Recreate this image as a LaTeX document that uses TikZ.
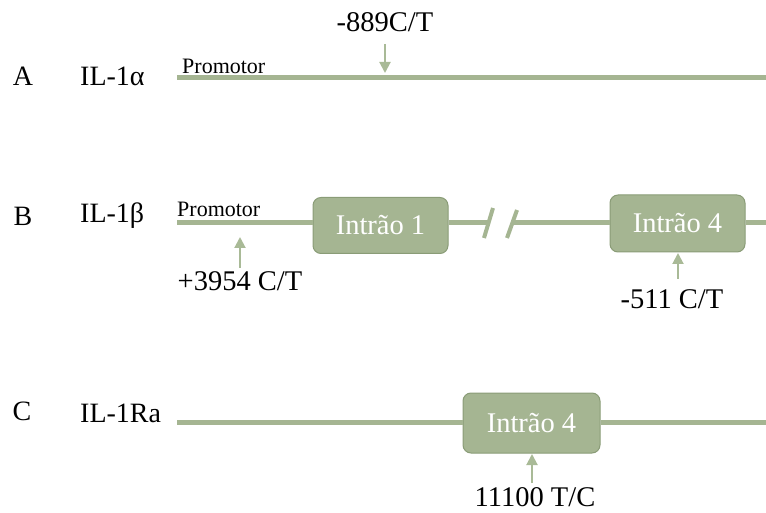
\documentclass[tikz,border=0pt]{standalone}
\usepackage{fontspec}
\setmainfont{Liberation Serif}
\usetikzlibrary{arrows.meta}
\definecolor{gline}{HTML}{A5B592}
\definecolor{gbox}{HTML}{A5B592}
\definecolor{gedge}{HTML}{8A9C77}
\definecolor{garrow}{HTML}{A9BA97}
\begin{document}
\begin{tikzpicture}[x=1pt,y=-1pt,
  gene/.style={draw=gline, line width=5pt},
  cut/.style={draw=gline, line width=4pt},
  intron/.style={draw=gedge, fill=gbox, rounded corners=8pt, line width=1pt,
    minimum width=135pt, minimum height=56pt, text=white, inner sep=0pt,
    font=\fontsize{28.5}{30}\selectfont},
  snp/.style={draw=garrow, line width=2pt, -{Triangle[width=11pt,length=11pt]}},
  big/.style={font=\fontsize{28.5}{32}\selectfont, inner sep=0pt},
  lbl/.style={font=\fontsize{28}{30}\selectfont, inner sep=0pt},
  prom/.style={font=\fontsize{22}{24}\selectfont, inner sep=0pt, anchor=base west}]
\useasboundingbox (0,0) rectangle (766,513);

% Row A
\node[lbl] (la) at (23,76) {A};
\node[lbl, anchor=west] (ga) at (80,76) {IL-1α};
\coordinate (a0) at (177,78);
\coordinate (a1) at (766,78);
\draw[gene] (a0) -- (a1);
\node[prom] (pa) at (182,74) {Promotor};
\node[big] (sa) at (385,22) {-889C/T};
\coordinate (sa1) at (385,44);
\coordinate (sa2) at (385,73);
\draw[snp] (sa1) -- (sa2);

% Row B
\node[lbl] (lb) at (23,216) {B};
\node[lbl, anchor=west] (gb) at (80,216) {IL-1β};
\node[intron] (i1) at (380.5,225.5) {Intrão 1};
\node[intron, minimum height=57pt] (i4b) at (677.5,223.5) {Intrão 4};
\coordinate (b0) at (177,223);
\coordinate (b1) at (488,223);
\coordinate (b2) at (513,223);
\coordinate (b3) at (766,223);
\draw[gene] (b0) -- (b0 -| i1.west);
\draw[gene] (b0 -| i1.east) -- (b1);
\draw[gene] (b2) -- (b2 -| i4b.west);
\draw[gene] (b2 -| i4b.east) -- (b3);
\coordinate (s1a) at (484,238);
\coordinate (s1b) at (493,208);
\coordinate (s2a) at (507,238);
\coordinate (s2b) at (517,210);
\draw[cut] (s1a) -- (s1b);
\draw[cut] (s2a) -- (s2b);
\node[prom] (pb) at (177,217) {Promotor};
\coordinate (sb1) at (240,268);
\coordinate (sb2) at (240,237);
\draw[snp] (sb1) -- (sb2);
\node[big] (tb1) at (240,281) {+3954 C/T};
\coordinate (sc1) at (678,279);
\coordinate (sc2) at (678,253);
\draw[snp] (sc1) -- (sc2);
\node[big] (tb2) at (672,299) {-511 C/T};

% Row C
\node[lbl] (lc) at (22,411) {C};
\node[lbl, anchor=west] (gc) at (80,413) {IL-1Ra};
\node[intron, minimum width=137pt, minimum height=60pt] (i4c) at (531.5,423) {Intrão 4};
\coordinate (c0) at (177,422);
\coordinate (c1) at (766,422);
\draw[gene] (c0) -- (c0 -| i4c.west);
\draw[gene] (c1 -| i4c.east) -- (c1);
\coordinate (sd1) at (532,483);
\coordinate (sd2) at (532,454);
\draw[snp] (sd1) -- (sd2);
\node[big] (tc) at (535,497) {11100 T/C};
\end{tikzpicture}
\end{document}
